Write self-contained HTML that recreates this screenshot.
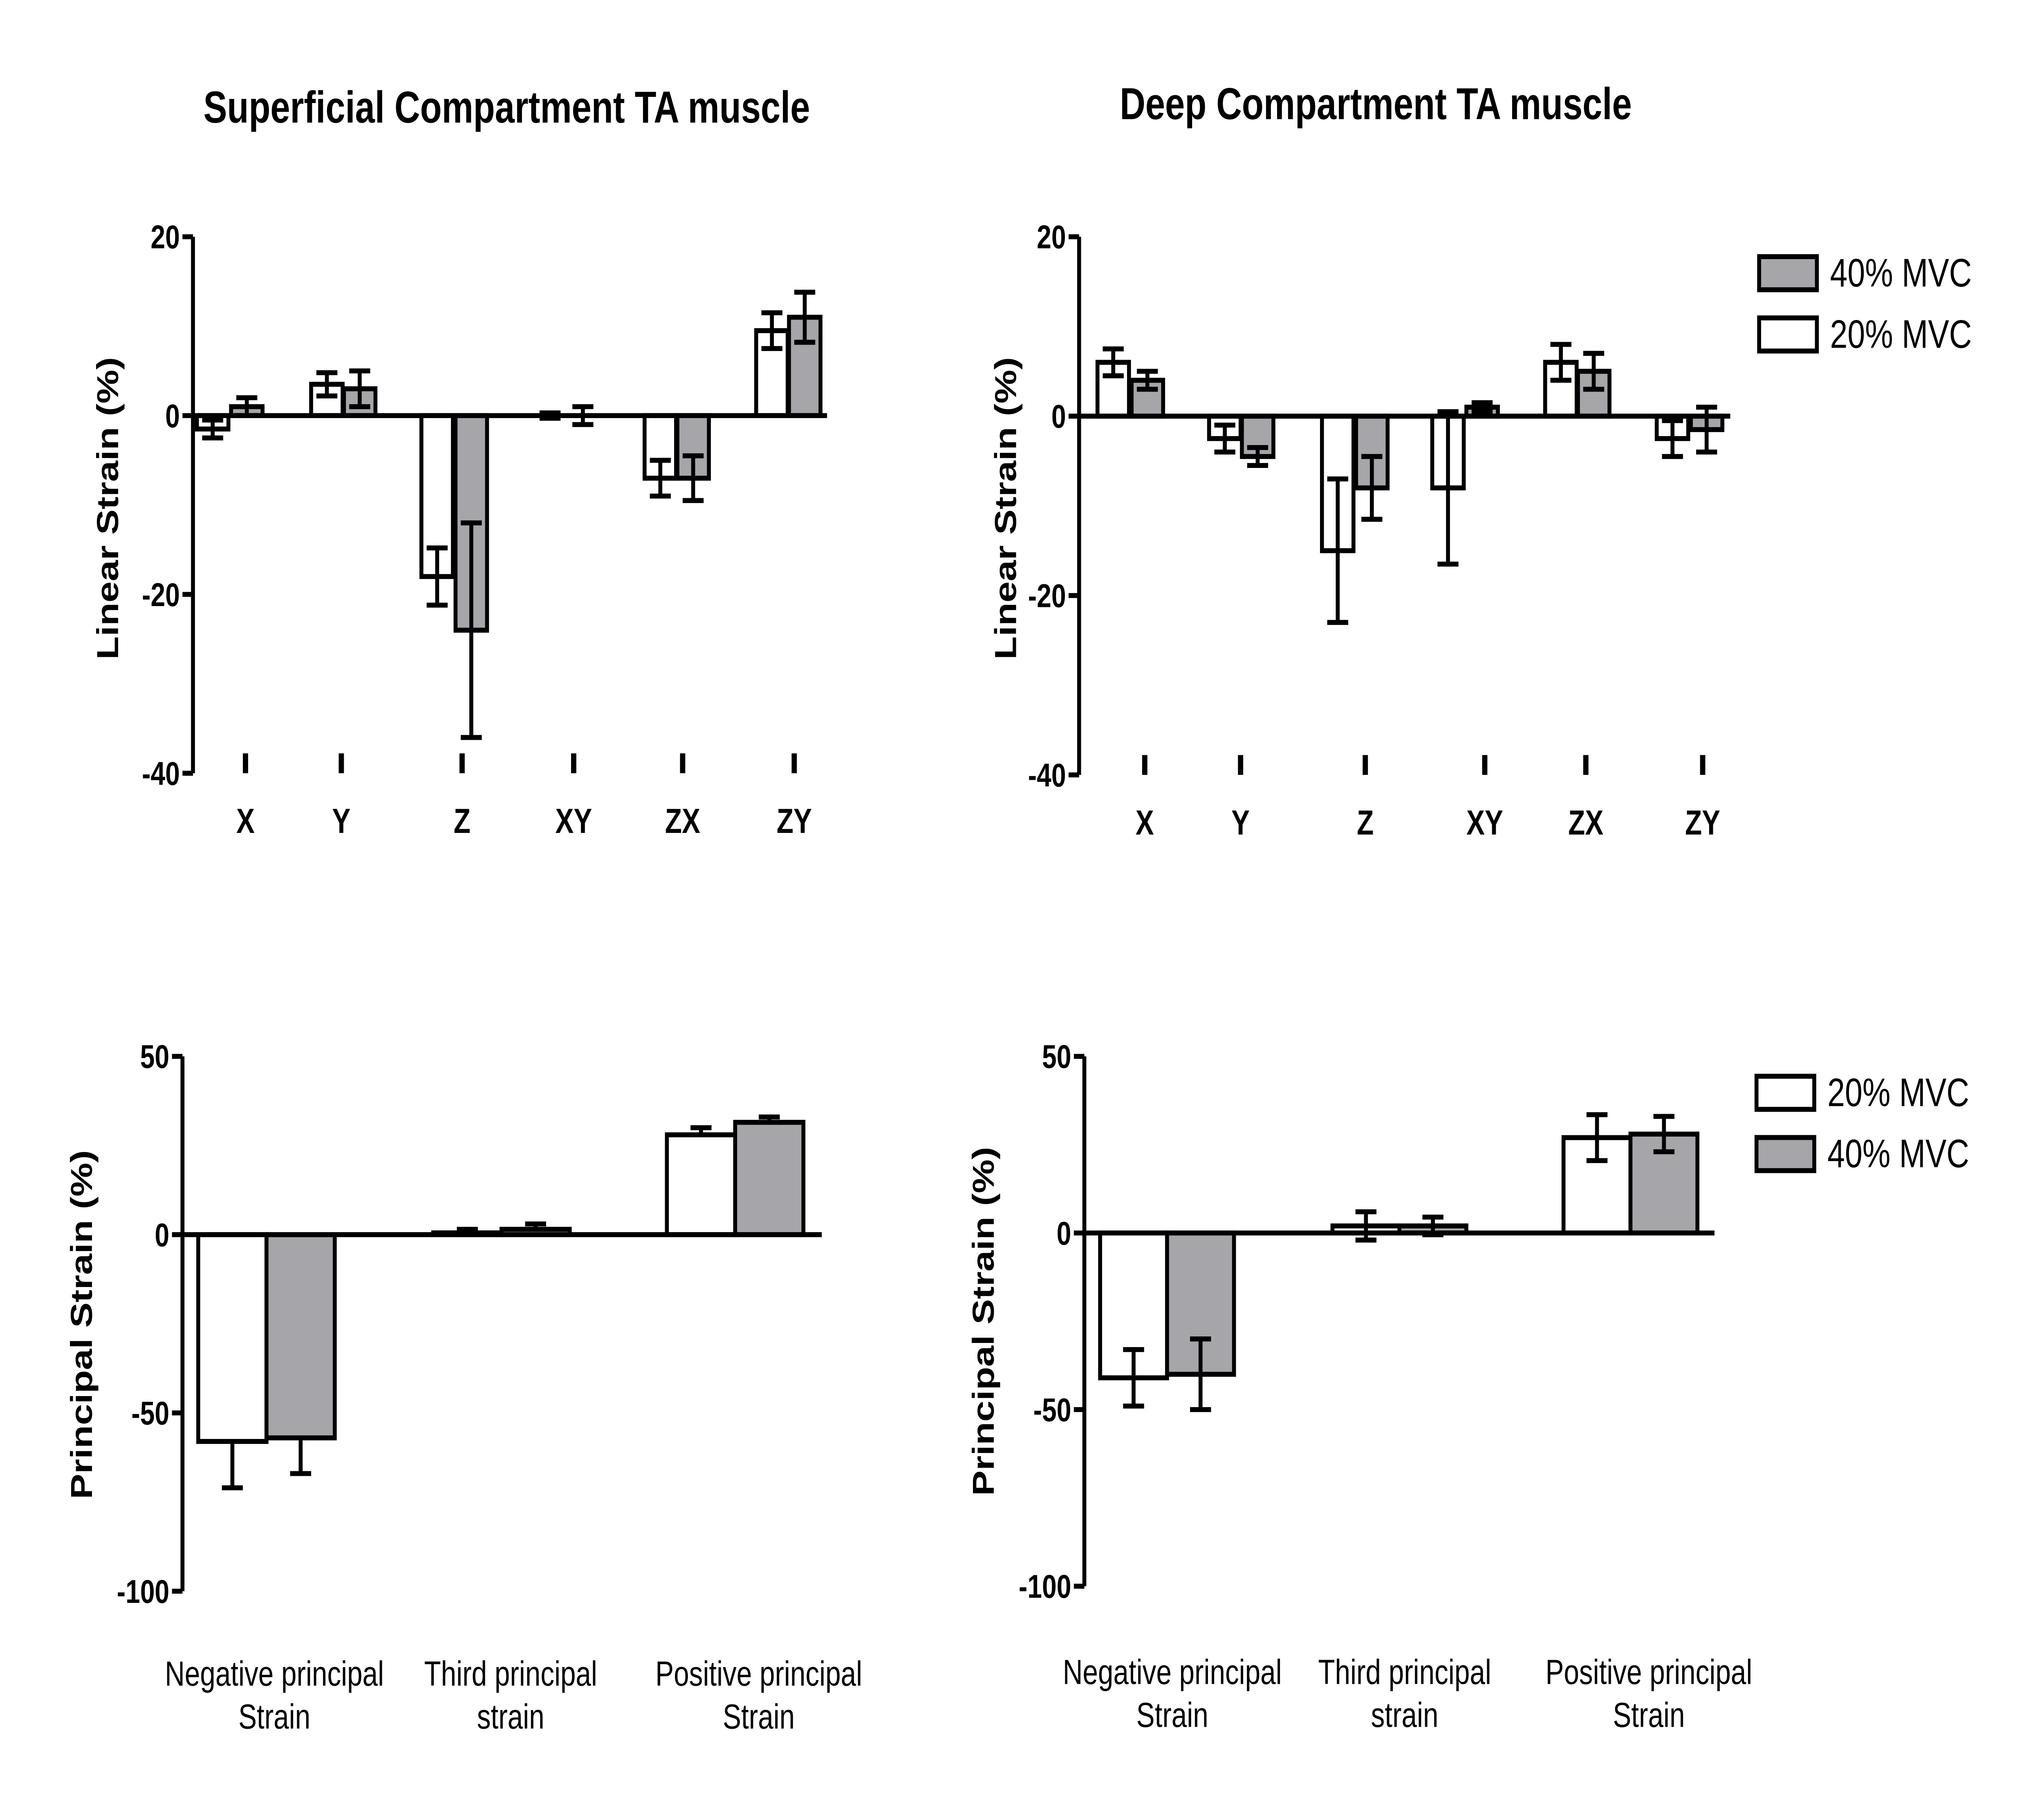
<!DOCTYPE html>
<html><head><meta charset="utf-8"><style>
html,body{margin:0;padding:0;background:#fff;overflow:hidden;width:100%;height:100%}
svg{display:block;width:100vw;height:100vh}
text{font-family:"Liberation Sans",sans-serif}
</style></head><body>
<svg id="root" xmlns="http://www.w3.org/2000/svg" viewBox="0 0 1557 1085.3" preserveAspectRatio="none">
<text x="386" y="74" font-size="27" font-weight="bold" text-anchor="middle">Superficial  Compartment TA muscle</text>
<text x="1048" y="72" font-size="27" font-weight="bold" text-anchor="middle">Deep Compartment TA muscle</text>
<g id="charts"></g>
</svg>
<script>
// Top-left (superficial linear)
const linCats = ["X","Y","Z","XY","ZX","ZY"];
const supLin20 = [-1.5,3.5,-18,0,-7,9.5];
const supLin20Err = [1,1.3,3.2,0.3,2,2];
const supLin40 = [1,3,-24,0,-7,11];
const supLin40Err = [1,2,12,1,2.5,2.8];
// Top-right (deep linear)
const deepLin20 = [6,-2.5,-15,-8,6,-2.5];
const deepLin20Err = [1.5,1.5,8,8.5,2,2];
const deepLin40 = [4,-4.5,-8,1,5,-1.5];
const deepLin40Err = [1,1,3.5,0.5,2,2.5];
const linTicks = [20,0,-20,-40];
// Bottom (principal)
const prinCats = [["Negative principal","Strain"],["Third principal","strain"],["Positive principal","Strain"]];
const supPr20 = [-58,0.5,28];
const supPr20Err = [13,1,2];
const supPr40 = [-57,1.5,31.5];
const supPr40Err = [10,1.5,1.5];
const deepPr20 = [-41,2,27];
const deepPr20Err = [8,4,6.5];
const deepPr40 = [-40,2,28];
const deepPr40Err = [10,2.5,5];
const prTicks = [50,0,-50,-100];
const prTickLines = [50,0,-50,-100];

const NS="http://www.w3.org/2000/svg";
const G=document.getElementById('charts');
function el(tag,attrs,parent){const e=document.createElementNS(NS,tag);for(const k in attrs)e.setAttribute(k,attrs[k]);(parent||G).appendChild(e);return e;}
const GRAY="#a5a5aa";

function chart(cfg){
  const g=el('g',{});
  
  
  const y=v=>cfg.y0+(cfg.vmax-v)/(cfg.vmax-cfg.vmin)*(cfg.y1-cfg.y0);
  const ya=el('line',{x1:cfg.ax,x2:cfg.ax,y1:y(cfg.vmax),y2:y(cfg.vmin),stroke:'#000','stroke-width':3},g);
  
  cfg.tickLines.forEach(t=>{el('line',{x1:cfg.ax-8,x2:cfg.ax,y1:y(t),y2:y(t),stroke:'#000','stroke-width':3},g);});
  cfg.ticks.forEach(t=>{const tx=el('text',{x:cfg.ax-10,y:y(t)+7,'font-size':20,'font-weight':'bold','text-anchor':'end'},g);tx.textContent=t;
    });
  const yt=el('text',{transform:`translate(${cfg.ytx},${cfg.yty}) rotate(-90)`,'font-size':23,'font-weight':'bold','text-anchor':'middle'},g);
  yt.textContent=cfg.ytitle;
  const z=y(0);
  cfg.series.forEach(s=>{
    s.vals.forEach((v,i)=>{
      const x0=s.x[i], w=cfg.bw, cx=x0+w/2;
      const yv=y(v);
      const r=el('rect',{x:x0,y:Math.min(yv,z),width:w,height:Math.abs(yv-z),fill:s.fill,stroke:'#000','stroke-width':3},g);
      
      const e=s.err[i];
      let a=v-e,b=v+e;
      if(cfg.oneSided){ if(v<0){b=v;} else {a=v;} }
      const eb=el('line',{x1:cx,x2:cx,y1:y(a),y2:y(b),stroke:'#000','stroke-width':3},g);
      
      const caps=cfg.oneSided?[v<0?a:b]:[a,b];
      caps.forEach(c=>el('line',{x1:cx-8,x2:cx+8,y1:y(c),y2:y(c),stroke:'#000','stroke-width':3},g));
    });
  });
  const xa=el('line',{x1:cfg.ax,x2:cfg.axEnd,y1:z,y2:z,stroke:'#000','stroke-width':3},g);
  
  cfg.cats.forEach((c,i)=>{
    if(cfg.catTicks){el('line',{x1:cfg.catX[i],x2:cfg.catX[i],y1:y(cfg.vmin)-12,y2:y(cfg.vmin),stroke:'#000','stroke-width':4},g);}
    const lines=Array.isArray(c)?c:[c];
    lines.forEach((ln,j)=>{const t=el('text',{x:cfg.catX[i],y:cfg.labY+j*26,'font-size':cfg.catFont,'font-weight':cfg.catBold?'bold':'normal','text-anchor':'middle'},g);t.textContent=ln;
      });
  });
}
function legend(items,x,y0,name){
  const g=el('g',{});
  items.forEach((it,i)=>{
    const yy=y0+i*37;
    const r=el('rect',{x:x,y:yy,width:44,height:20,fill:it.fill,stroke:'#000','stroke-width':3},g);
    
    const t=el('text',{x:x+54,y:yy+18,'font-size':24},g);t.textContent=it.label;
    
  });
}

chart({name:'chart-superficial-linear',ax:147,axEnd:630,y0:143,y1:467,vmax:20,vmin:-40,ticks:linTicks,tickLines:linTicks,
  ytitle:'Linear Strain (%)',ytx:90,yty:307,bw:24,oneSided:false,cats:linCats,catX:[187,260,352,437,520,605],catTicks:true,labY:503,catFont:21,catBold:true,
  series:[{key:'20',fill:'#fff',vals:supLin20,err:supLin20Err,x:[150,237,321,407,491,576]},
          {key:'40',fill:GRAY,vals:supLin40,err:supLin40Err,x:[176,262,347,432,516,601]}]});
chart({name:'chart-deep-linear',ax:822,axEnd:1318,y0:143,y1:468,vmax:20,vmin:-40,ticks:linTicks,tickLines:linTicks,
  ytitle:'Linear Strain (%)',ytx:774,yty:307,bw:24,oneSided:false,cats:linCats,catX:[872,945,1040,1131,1208,1297],catTicks:true,labY:504,catFont:21,catBold:true,
  series:[{key:'20',fill:'#fff',vals:deepLin20,err:deepLin20Err,x:[836,921,1007,1091,1177,1262]},
          {key:'40',fill:GRAY,vals:deepLin40,err:deepLin40Err,x:[862,946,1033,1117,1202,1288]}]});
chart({name:'chart-superficial-principal',ax:139,axEnd:626,y0:638,y1:961,vmax:50,vmin:-100,ticks:prTicks,tickLines:prTickLines,
  ytitle:'Principal Strain (%)',ytx:70,yty:800,bw:52,oneSided:true,cats:prinCats,catX:[209,389,578],catTicks:false,labY:1018,catFont:21,catBold:false,
  series:[{key:'20',fill:'#fff',vals:supPr20,err:supPr20Err,x:[151,330,508]},
          {key:'40',fill:GRAY,vals:supPr40,err:supPr40Err,x:[203,382,560]}]});
chart({name:'chart-deep-principal',ax:826,axEnd:1306,y0:638,y1:958,vmax:50,vmin:-100,ticks:prTicks,tickLines:prTickLines,
  ytitle:'Principal Strain (%)',ytx:757,yty:798,bw:51,oneSided:false,cats:prinCats,catX:[893,1070,1256],catTicks:false,labY:1017,catFont:21,catBold:false,
  series:[{key:'20',fill:'#fff',vals:deepPr20,err:deepPr20Err,x:[838,1015,1191]},
          {key:'40',fill:GRAY,vals:deepPr40,err:deepPr40Err,x:[889,1066,1242]}]});
legend([{fill:GRAY,label:'40% MVC'},{fill:'#fff',label:'20% MVC'}],1340,155,'legend-top');
legend([{fill:'#fff',label:'20% MVC'},{fill:GRAY,label:'40% MVC'}],1338,650,'legend-bottom');
</script>
</body></html>
